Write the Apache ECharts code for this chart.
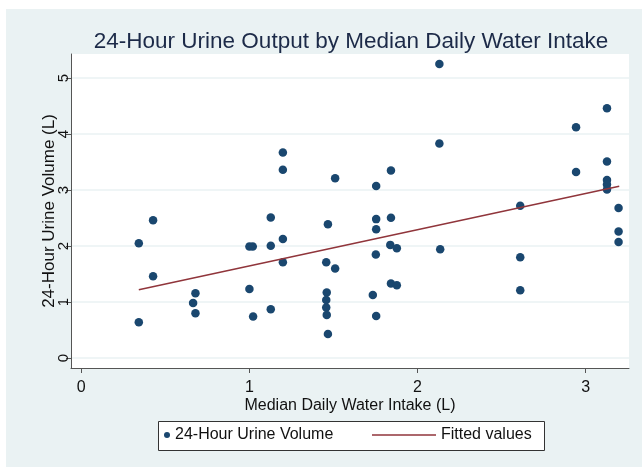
<!DOCTYPE html>
<html>
<head>
<meta charset="utf-8">
<script src="https://cdn.jsdelivr.net/npm/echarts@6/dist/echarts.min.js"></script>
<style>
  html, body { margin: 0; padding: 0; background: #ffffff; }
  #wrap { position: relative; width: 642px; height: 467px; background: #ffffff; }
  #panel { position: absolute; left: 6px; top: 9px; width: 636px; height: 458px; background: #EAF2F3; }
  #chart { position: absolute; left: 0; top: 0; width: 642px; height: 467px; }
</style>
</head>
<body>
<div id="wrap"><div id="panel"></div><div id="chart"></div></div>
<script>
// Median daily water intake (L)
const intakeL = [0.342, 0.342, 0.427, 0.427, 0.679, 0.665, 0.679, 1.000, 1.020, 1.000,
  1.022, 1.127, 1.127, 1.127, 1.199, 1.199, 1.199, 1.199, 1.467, 1.457,
  1.510, 1.510, 1.460, 1.457, 1.457, 1.460, 1.467, 1.754, 1.754, 1.754,
  1.752, 1.734, 1.754, 1.842, 1.842, 1.838, 1.877, 1.842, 1.877, 2.130,
  2.130, 2.135, 2.611, 2.611, 2.611, 2.943, 2.943, 3.127, 3.127, 3.127,
  3.127, 3.127, 3.196, 3.196, 3.196];
// 24-hour urine volume (L)
const urineL = [2.05, 0.64, 2.46, 1.46, 1.155, 0.98, 0.80, 1.99, 1.99, 1.23,
  0.74, 2.51, 2.005, 0.87, 3.67, 3.36, 2.125, 1.71, 2.39, 1.71,
  1.60, 3.21, 1.17, 1.036, 0.90, 0.77, 0.43, 3.07, 2.48, 2.30,
  1.85, 1.125, 0.75, 3.35, 2.505, 2.02, 1.96, 1.33, 1.30, 5.25,
  3.83, 1.94, 2.72, 1.80, 1.21, 4.12, 3.32, 4.46, 3.51, 3.18,
  3.10, 3.01, 2.68, 2.26, 2.07];
// Fitted line end points
const fitX = [0.342, 3.2];
const fitY = [1.22, 3.066];
// Tick labels
const xTicks = [0, 1, 2, 3];
const yTicks = [0, 1, 2, 3, 4, 5];

const scatterData = intakeL.map((x, i) => [x, urineL[i]]);
const fitData = fitX.map((x, i) => [x, fitY[i]]);

const FONT = 'Liberation Sans, Arial, sans-serif';
const chart = echarts.init(document.getElementById('chart'), null, { renderer: 'canvas' });

chart.setOption({
  backgroundColor: 'transparent',
  animation: false,
  title: {
    text: '24-Hour Urine Output by Median Daily Water Intake',
    left: 346, top: 25, textAlign: 'center',
    textStyle: { fontFamily: FONT, fontSize: 22.5, fontWeight: 'normal', color: '#1c2a48' }
  },
  grid: {
    left: 71, top: 54, width: 558, height: 314,
    show: true, backgroundColor: '#ffffff', borderWidth: 0
  },
  xAxis: {
    type: 'value',
    min: -0.0613, max: 3.258,
    name: 'Median Daily Water Intake (L)',
    nameLocation: 'middle', nameGap: 30, nameMoveOverlap: false,
    nameTextStyle: { fontFamily: FONT, fontSize: 16, color: '#111' },
    axisLine: { show: true, onZero: false, lineStyle: { color: '#555', width: 1 } },
    axisTick: { show: true, length: 5, customValues: xTicks, lineStyle: { color: '#555' } },
    axisLabel: { customValues: xTicks, margin: 12, fontFamily: FONT, fontSize: 16, color: '#111' },
    splitLine: { show: false }
  },
  yAxis: {
    type: 'value',
    min: -0.1786, max: 5.4286,
    name: '24-Hour Urine Volume (L)',
    nameLocation: 'middle', nameGap: 13, nameMoveOverlap: false,
    nameTextStyle: { fontFamily: FONT, fontSize: 17, color: '#111' },
    axisLine: { show: true, onZero: false, lineStyle: { color: '#555', width: 1 } },
    axisTick: { show: true, length: 5, customValues: yTicks, lineStyle: { color: '#555' } },
    axisLabel: { customValues: yTicks, rotate: 90, margin: 0, fontFamily: FONT, fontSize: 15, color: '#111' },
    splitLine: { show: true, lineStyle: { color: '#EAF2F3', width: 1.5 } }
  },
  legend: [
    {
      data: ['24-Hour Urine Volume'],
      left: 164, top: 427, padding: 0,
      itemWidth: 6, itemHeight: 6, icon: 'circle',
      textStyle: { fontFamily: FONT, fontSize: 16, color: '#111' }
    },
    {
      data: [{ name: 'Fitted values', icon: 'rect', itemStyle: { color: '#90353B' } }],
      left: 372, top: 427, padding: 0,
      itemWidth: 64, itemHeight: 1.5,
      textStyle: { fontFamily: FONT, fontSize: 16, color: '#111' }
    }
  ],
  graphic: [{
    type: 'rect', z: 1,
    shape: { x: 158.5, y: 421.5, width: 386, height: 29 },
    style: { fill: '#ffffff', stroke: '#333', lineWidth: 1 }
  }],
  series: [
    {
      name: '24-Hour Urine Volume', type: 'scatter',
      data: scatterData, symbolSize: 8.5,
      itemStyle: { color: '#1A476F', opacity: 1 }
    },
    {
      name: 'Fitted values', type: 'line',
      data: fitData, symbol: 'none', z: 3,
      lineStyle: { color: '#90353B', width: 1.5 }
    }
  ]
});
</script>
</body>
</html>
